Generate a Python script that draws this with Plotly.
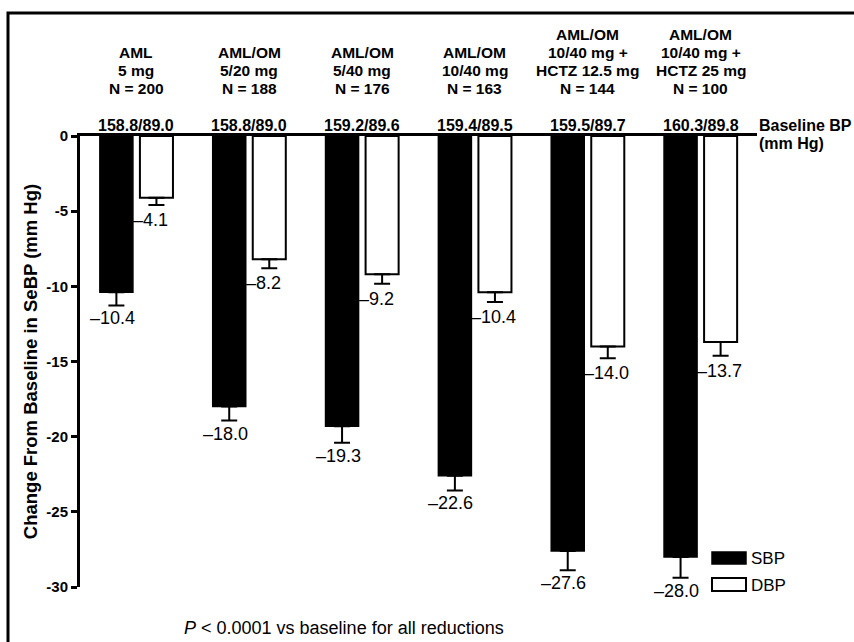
import plotly.graph_objects as go

# ---- data ----
group_lines = [
    ["AML", "5 mg", "N = 200"],
    ["AML/OM", "5/20 mg", "N = 188"],
    ["AML/OM", "5/40 mg", "N = 176"],
    ["AML/OM", "10/40 mg", "N = 163"],
    ["AML/OM", "10/40 mg +", "HCTZ 12.5 mg", "N = 144"],
    ["AML/OM", "10/40 mg +", "HCTZ 25 mg", "N = 100"],
]
baseline_bp = ["158.8/89.0", "158.8/89.0", "159.2/89.6", "159.4/89.5", "159.5/89.7", "160.3/89.8"]
sbp = [-10.4, -18.0, -19.3, -22.6, -27.6, -28.0]
dbp = [-4.1, -8.2, -9.2, -10.4, -14.0, -13.7]
sbp_err = [0.87, 0.93, 1.1, 0.98, 1.28, 1.38]
dbp_err = [0.49, 0.6, 0.62, 0.64, 0.78, 0.91]
y_ticks = [0, -5, -10, -15, -20, -25, -30]
y_title = "Change From Baseline in SeBP (mm Hg)"
footnote = "<i>P</i> < 0.0001 vs baseline for all reductions"

FONT = "Liberation Sans, Arial, Helvetica, sans-serif"
W, H = 854, 642
L, R, T, B = 80, 97, 136, 55
PW, PH = W - L - R, H - T - B

def px_x(p):
    return (p - L) / PW

def px_y(p):
    return (H - B - p) / PH

x = list(range(len(sbp)))
bw = 33 / 112.7
off_s = -(20 + 16.5) / 112.7
off_d = (20 - 16.5) / 112.7

fig = go.Figure()
fig.add_trace(go.Bar(
    x=x, y=sbp, width=bw, offset=off_s, name="SBP",
    marker=dict(color="black", line=dict(color="black", width=1.5)),
    error_y=dict(type="data", symmetric=False, array=[0] * len(sbp), arrayminus=sbp_err,
                 color="black", thickness=2, width=8),
    showlegend=False,
))
fig.add_trace(go.Bar(
    x=x, y=dbp, width=bw, offset=off_d, name="DBP",
    marker=dict(color="white", line=dict(color="black", width=2)),
    error_y=dict(type="data", symmetric=False, array=[0] * len(dbp), arrayminus=dbp_err,
                 color="black", thickness=2, width=8),
    showlegend=False,
))

ann = []
# value labels
for i in x:
    ann.append(dict(x=i + off_s + bw / 2, y=sbp[i] - sbp_err[i], xref="x", yref="y",
                    text=f"\u2013{abs(sbp[i]):.1f}", showarrow=False, xanchor="center",
                    yanchor="top", xshift=-4, yshift=-1,
                    font=dict(family=FONT, size=18, color="black")))
    ann.append(dict(x=i - 3.5 / 112.7, y=dbp[i] - dbp_err[i], xref="x", yref="y",
                    text=f"\u2013{abs(dbp[i]):.1f}", showarrow=False, xanchor="left",
                    yanchor="top", xshift=-2, yshift=-3,
                    font=dict(family=FONT, size=18, color="black")))
# group headings and baseline BP
for i in x:
    lines = group_lines[i]
    n = len(lines)
    for k, line in enumerate(lines):
        from_bottom = n - 1 - k
        ann.append(dict(x=i, y=0, xref="x", yref="y", text=f"<b>{line}</b>", showarrow=False,
                        xanchor="center", yanchor="middle", yshift=48 + 18 * from_bottom,
                        font=dict(family=FONT, size=15.5, color="black")))
    ann.append(dict(x=i, y=0, xref="x", yref="y", text=f"<b>{baseline_bp[i]}</b>", showarrow=False,
                    xanchor="center", yanchor="middle", yshift=11,
                    font=dict(family=FONT, size=16, color="black")))
ann.append(dict(x=px_x(757), y=0, xref="paper", yref="y", text="<b>Baseline BP</b>", showarrow=False,
                xanchor="left", yanchor="middle", yshift=11,
                font=dict(family=FONT, size=16, color="black")))
ann.append(dict(x=px_x(757), y=0, xref="paper", yref="y", text="<b>(mm Hg)</b>", showarrow=False,
                xanchor="left", yanchor="middle", yshift=-7,
                font=dict(family=FONT, size=16, color="black")))
# legend
ann.append(dict(x=px_x(749), y=px_y(558), xref="paper", yref="paper", text="SBP", showarrow=False,
                xanchor="left", yanchor="middle", font=dict(family=FONT, size=17, color="black")))
ann.append(dict(x=px_x(749), y=px_y(585), xref="paper", yref="paper", text="DBP", showarrow=False,
                xanchor="left", yanchor="middle", font=dict(family=FONT, size=17, color="black")))
# footnote
ann.append(dict(x=px_x(182), y=px_y(628), xref="paper", yref="paper", text=footnote, showarrow=False,
                xanchor="left", yanchor="middle", font=dict(family=FONT, size=18, color="black")))

shapes = [
    dict(type="rect", xref="paper", yref="paper", x0=px_x(8), x1=px_x(870), y0=px_y(13), y1=px_y(660),
         line=dict(color="black", width=3), fillcolor="rgba(0,0,0,0)", layer="above"),
    dict(type="rect", xref="paper", yref="paper", x0=px_x(712), x1=px_x(746), y0=px_y(564), y1=px_y(552),
         line=dict(color="black", width=1.5), fillcolor="black"),
    dict(type="rect", xref="paper", yref="paper", x0=px_x(712), x1=px_x(746), y0=px_y(591), y1=px_y(578),
         line=dict(color="black", width=2), fillcolor="white"),
]

fig.update_layout(
    width=W, height=H,
    margin=dict(l=L, r=R, t=T, b=B, pad=0),
    paper_bgcolor="white", plot_bgcolor="white",
    barmode="overlay",
    annotations=ann, shapes=shapes,
    font=dict(family=FONT, color="black"),
    xaxis=dict(range=[-0.5, 5.5], side="top", showline=True, linecolor="black", linewidth=2.5,
               showticklabels=False, ticks="", showgrid=False, zeroline=False, fixedrange=True),
    yaxis=dict(range=[-30, 0], tickvals=y_ticks, ticktext=[str(v) for v in y_ticks],
               showline=True, linecolor="black", linewidth=3, ticks="outside", ticklen=6,
               tickwidth=2.5, tickcolor="black", showgrid=False, zeroline=False,
               tickfont=dict(family=FONT, size=15, color="black", weight="bold"),
               title=dict(text=y_title, standoff=4,
                          font=dict(family=FONT, size=18.5, color="black", weight="bold"))),
)

fig.write_html("out.html", config={"displayModeBar": False},
               post_script="document.body.style.margin='0';document.body.style.overflow='hidden';")
